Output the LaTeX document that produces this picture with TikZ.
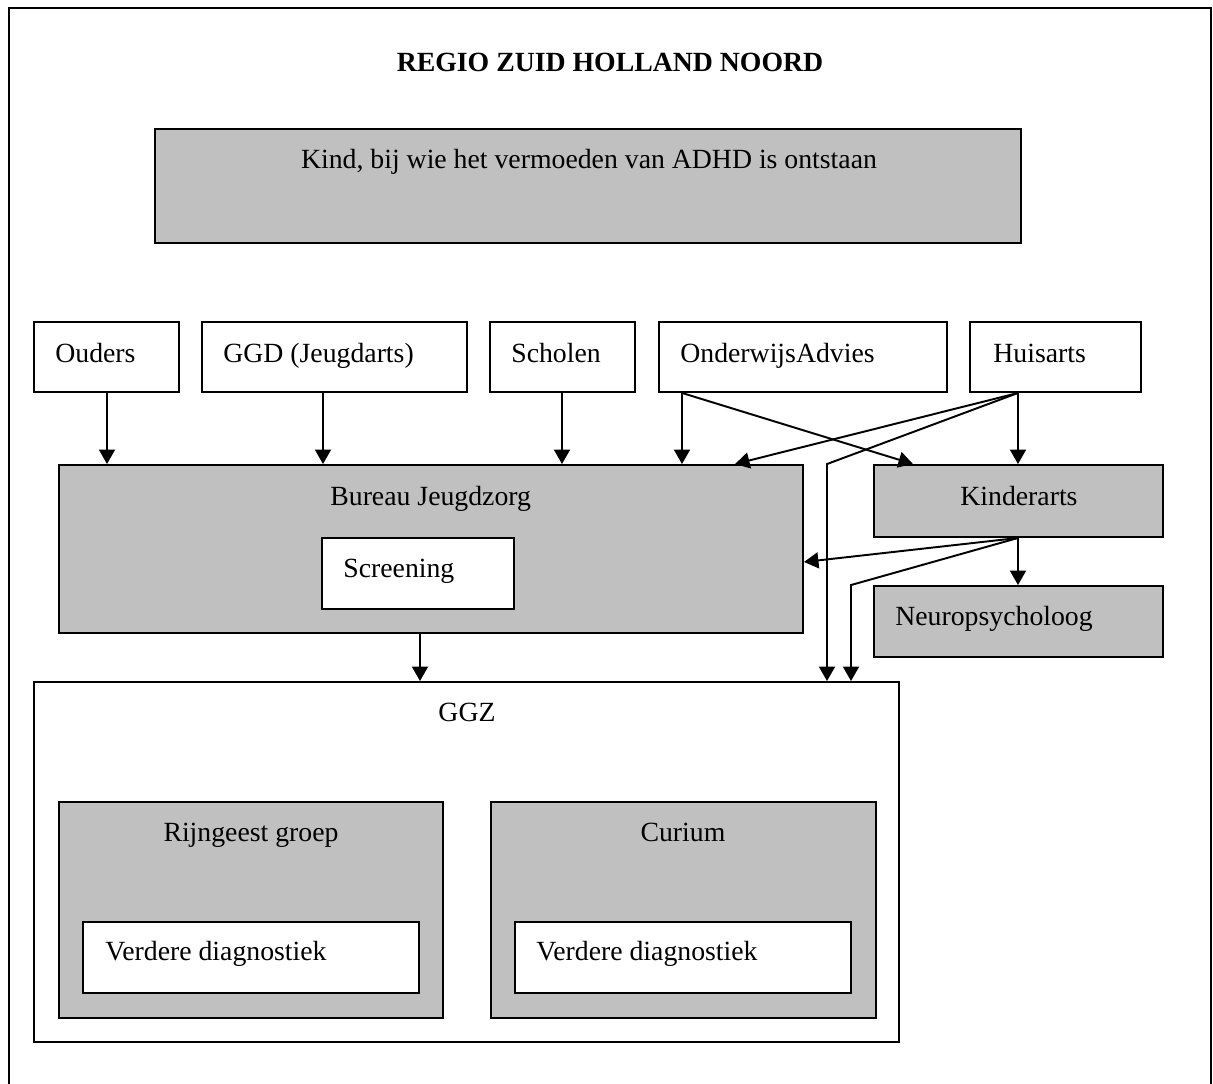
\documentclass[tikz,border=0pt]{standalone}
\usepackage{fontspec}
\setmainfont{Liberation Serif}
\definecolor{boxgray}{RGB}{192,192,192}
\usetikzlibrary{positioning,fit,arrows.meta}

\begin{document}
\begin{tikzpicture}[x=0.02cm,y=-0.02cm,
    box/.style={draw,line width=1.1pt,inner sep=0pt,fill=white},
    greybox/.style={box,fill=boxgray},
    txt/.style={inner sep=0pt,font=\fontsize{15.8}{19}\selectfont},
    arr/.style={-{Triangle[width=0.32cm,length=0.29cm]},line width=1.1pt}]
    \useasboundingbox (0,0) rectangle (1213,1084);
    \draw[line width=1pt] (9,1084) -- (9,8) -- (1211,8) -- (1211,1084);
    \node[txt,font=\fontsize{15.8}{19}\selectfont\bfseries,anchor=base] (title) at (610,72) {REGIO ZUID HOLLAND NOORD};

    % kind
    \node[greybox,fit={(155,129) (1021,243)}] (kind) {};
    \node[txt,anchor=base] (tKind) at (589,169) {Kind, bij wie het vermoeden van ADHD is ontstaan};

    % signaleerders
    \node[box,fit={(34,322) (179,392)}] (ouders) {};
    \node[txt,anchor=base west] (tOuders) at (55,362) {Ouders};
    \node[box,fit={(202,322) (467,392)}] (ggd) {};
    \node[txt,anchor=base west] (tGgd) at (223,362) {GGD (Jeugdarts)};
    \node[box,fit={(490,322) (635,392)}] (scholen) {};
    \node[txt,anchor=base west] (tScholen) at (511,362) {Scholen};
    \node[box,fit={(659,322) (947,392)}] (onderwijs) {};
    \node[txt,anchor=base west] (tOnderwijs) at (680,362) {OnderwijsAdvies};
    \node[box,fit={(970,322) (1141,392)}] (huisarts) {};
    \node[txt,anchor=base west] (tHuisarts) at (993,362) {Huisarts};

    % bureau jeugdzorg
    \node[greybox,fit={(59,465) (803,633)}] (bureau) {};
    \node[txt,anchor=base west] (tBureau) at (330,505) {Bureau Jeugdzorg};
    \node[box,fit={(322,538) (514,609)}] (screening) {};
    \node[txt,anchor=base west] (tScreening) at (343,577) {Screening};

    \node[greybox,fit={(874,465) (1163,537)}] (kinderarts) {};
    \node[txt,anchor=base west] (tKinderarts) at (960,505) {Kinderarts};
    \node[greybox,fit={(874,586) (1163,657)}] (neuro) {};
    \node[txt,anchor=base west] (tNeuro) at (895,625) {Neuropsycholoog};

    % ggz
    \node[box,fit={(34,682) (899,1042)}] (ggz) {};
    \node[txt,anchor=base] (tGgz) at (467,721) {GGZ};
    \node[greybox,fit={(59,802) (443,1018)}] (rijngeest) {};
    \node[txt,anchor=base] (tRijngeest) at (251,841) {Rijngeest groep};
    \node[box,fit={(83,922) (419,993)}] (diagA) {};
    \node[txt,anchor=base west] (tDiagA) at (105,960) {Verdere diagnostiek};
    \node[greybox,fit={(491,802) (876,1018)}] (curium) {};
    \node[txt,anchor=base] (tCurium) at (683,841) {Curium};
    \node[box,fit={(515,922) (851,993)}] (diagB) {};
    \node[txt,anchor=base west] (tDiagB) at (536,960) {Verdere diagnostiek};

    % verwijzingen
    \draw[arr] (107,0 |- ouders.south) -- (107,0 |- bureau.north);
    \draw[arr] (323,0 |- ggd.south) -- (323,0 |- bureau.north);
    \draw[arr] (562,0 |- scholen.south) -- (562,0 |- bureau.north);
    \draw[arr] (682,0 |- onderwijs.south) -- (682,0 |- bureau.north);
    \draw[arr] (682,0 |- onderwijs.south) -- (913,0 |- kinderarts.north);
    \draw[arr] (1018,0 |- huisarts.south) -- (735,0 |- bureau.north);
    \draw[arr] (1018,0 |- huisarts.south) -- (1018,0 |- kinderarts.north);
    \draw[arr] (1018,0 |- huisarts.south) -- (827,0 |- kinderarts.north) -- (827,0 |- ggz.north);
    \draw[arr] (1018,0 |- kinderarts.south) -- (bureau.east |- 0,562);
    \draw[arr] (1018,0 |- kinderarts.south) -- (1018,0 |- neuro.north);
    \draw[arr] (1018,0 |- kinderarts.south) -- (851,0 |- neuro.north) -- (851,0 |- ggz.north);
    \draw[arr] (420,0 |- bureau.south) -- (420,0 |- ggz.north);
\end{tikzpicture}
\end{document}
